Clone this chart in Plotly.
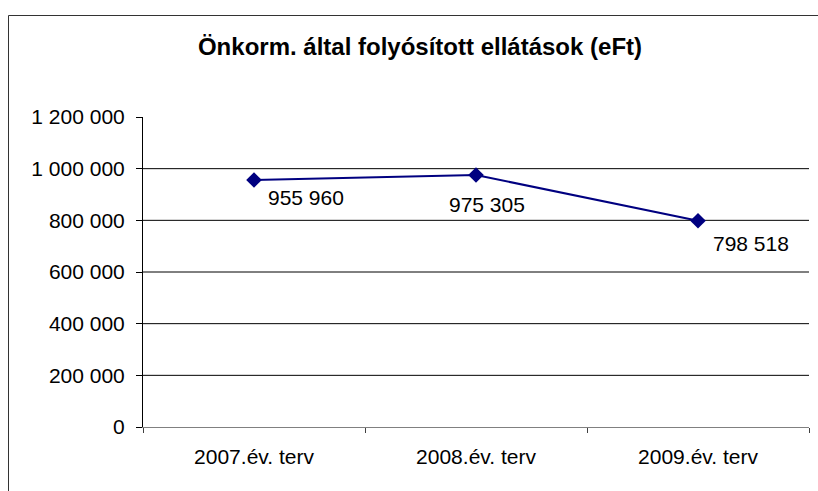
import plotly.graph_objects as go

categories = ["2007.év. terv", "2008.év. terv", "2009.év. terv"]
values = [955960, 975305, 798518]
grid_values = [200000, 400000, 600000, 800000, 1000000]
y_ticks = [0, 200000, 400000, 600000, 800000, 1000000, 1200000]
title_text = "Önkorm. által folyósított ellátások (eFt)"

W, H = 818, 491
L, R, T, B = 143, 9, 117, 64
pw, ph = W - L - R, H - T - B
FONT = "Liberation Sans, Arial"
FS = 21

def fmt(v):
    return f"{v:,}".replace(",", " ")

fig = go.Figure()
fig.add_trace(go.Scatter(
    x=categories, y=values, mode="lines+markers",
    line=dict(color="#000080", width=2),
    marker=dict(symbol="diamond", size=12, color="#000080"),
    hoverinfo="skip", showlegend=False,
))

# data labels
label_offsets = [(12, -17, "left"), (11, -29, "center"), (13, -23, "left")]
for c, v, (dx, dy, anc) in zip(categories, values, label_offsets):
    fig.add_annotation(x=c, y=v, xref="x", yref="y", text=fmt(v),
                       showarrow=False, xanchor=anc, yanchor="middle",
                       xshift=dx, yshift=dy,
                       font=dict(family=FONT, size=FS, color="black"))

shapes = []
for g in grid_values:
    shapes.append(dict(type="line", xref="paper", yref="y", x0=0, x1=1, y0=g, y1=g,
                       line=dict(color="black", width=1), layer="below"))
# chart frame (left and top edges)
fx = lambda px: (px - L) / pw
fy = lambda py: (H - B - py) / ph
shapes.append(dict(type="line", xref="paper", yref="paper", x0=fx(8.5), x1=fx(8.5), y0=fy(15.5), y1=fy(H + 5),
                   line=dict(color="#333333", width=1)))
shapes.append(dict(type="line", xref="paper", yref="paper", x0=fx(8.5), x1=fx(W + 5), y0=fy(15.5), y1=fy(15.5),
                   line=dict(color="#333333", width=1)))

fig.update_layout(
    width=W, height=H,
    margin=dict(l=L, r=R, t=T, b=B, pad=0),
    paper_bgcolor="white", plot_bgcolor="white",
    separators=", ",
    font=dict(family=FONT, size=FS, color="black"),
    title=dict(text="<b>" + title_text + "</b>", xref="container", yref="container",
               x=420 / W, y=1 - 47 / H, xanchor="center", yanchor="middle",
               font=dict(family=FONT, size=24, color="black")),
    shapes=shapes,
    showlegend=False,
)
fig.update_xaxes(
    type="category", range=[-0.5, 2.5],
    showgrid=False, zeroline=False,
    showline=True, linecolor="#808080", linewidth=1,
    ticks="outside", tickson="boundaries", ticklen=5, tickcolor="#404040",
    ticklabelstandoff=11,
    tickfont=dict(size=FS),
)
fig.update_yaxes(
    range=[0, 1200000], tickvals=y_ticks, ticktext=[fmt(v) for v in y_ticks],
    showgrid=False, zeroline=False,
    showline=True, linecolor="black", linewidth=1,
    ticks="outside", ticklen=6, tickcolor="black",
    ticklabelstandoff=7,
    tickfont=dict(size=FS),
)

fig.write_html("out.html", config={"displayModeBar": False},
               post_script="document.body.style.margin='0';document.body.style.padding='0';")
